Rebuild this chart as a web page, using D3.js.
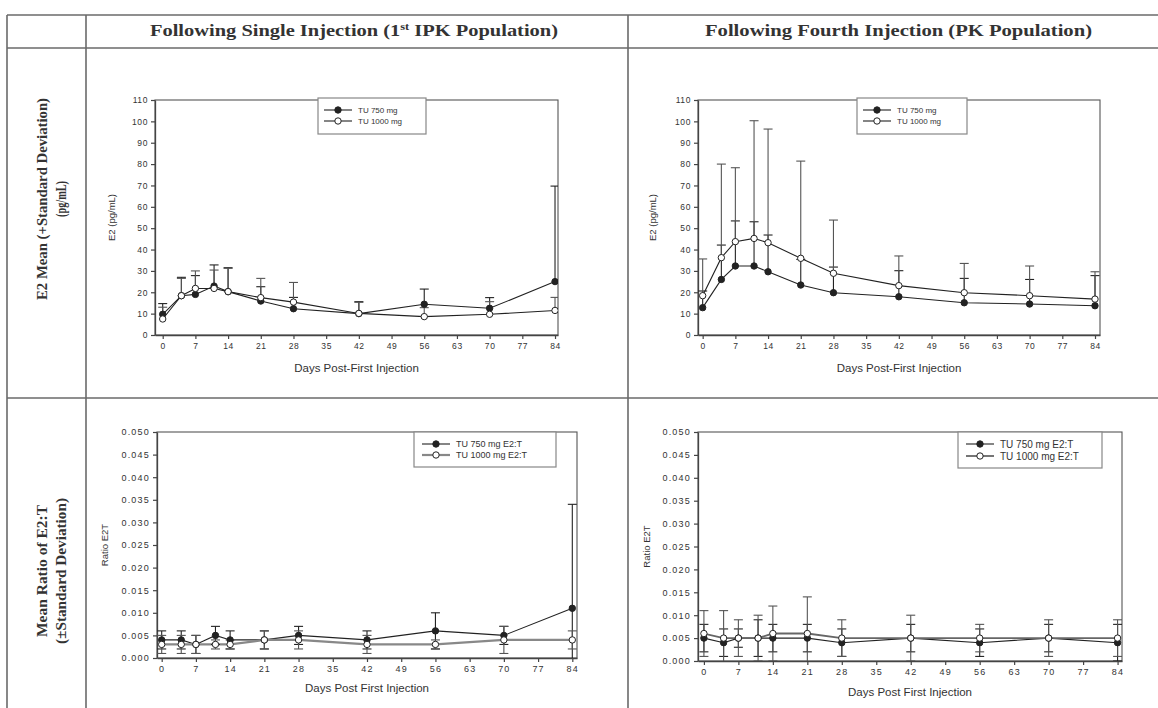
<!DOCTYPE html>
<html>
<head>
<meta charset="utf-8">
<script src="https://cdn.jsdelivr.net/npm/d3@7"></script>
<style>
  html, body { margin: 0; padding: 0; background: #fff; }
  svg { display: block; }
  .tick text { font-family: Arial, "Liberation Sans", sans-serif; fill: #333; }
</style>
</head>
<body>
<svg id="chart" width="1158" height="708"></svg>
<script>
// Sampling days after the first injection
const days = [0, 4, 7, 11, 14, 21, 28, 42, 56, 70, 84];
const dayTicks = [0, 7, 14, 21, 28, 35, 42, 49, 56, 63, 70, 77, 84];
const e2Ticks = [0, 10, 20, 30, 40, 50, 60, 70, 80, 90, 100, 110];
const ratioTicks = [0, 0.005, 0.01, 0.015, 0.02, 0.025, 0.03, 0.035, 0.04, 0.045, 0.05];

const columnTitles = ["Following Single Injection (1", "Following Fourth Injection (PK Population)"];
const rowTitles = [["E2 Mean (+Standard Deviation)", "(pg/mL)"], ["Mean Ratio of E2:T", "(\u00B1Standard Deviation)"]];
const e2Legend = ["TU 750 mg", "TU 1000 mg"];
const ratioLegend = ["TU 750 mg E2:T", "TU 1000 mg E2:T"];

// E2 (pg/mL), single injection
const e2Single750 = [9.7, 18.4, 19.0, 22.9, 20.3, 15.9, 12.3, 10.0, 14.4, 12.5, 25.0];
const e2Single750Sd = [5.0, 8.6, 8.8, 9.9, 11.2, 6.7, 5.3, 5.6, 7.1, 5.0, 44.7];
const e2Single1000 = [7.5, 18.4, 21.8, 21.8, 20.3, 17.5, 15.4, 10.1, 8.6, 9.7, 11.5];
const e2Single1000Sd = [5.5, 8.1, 8.2, 8.6, 10.9, 9.0, 9.2, 5.2, 4.2, 5.9, 6.1];

// E2 (pg/mL), fourth injection
const e2Fourth750 = [12.8, 26.0, 32.3, 32.3, 29.6, 23.4, 19.8, 17.9, 15.1, 14.5, 13.7];
const e2Fourth750Sd = [7.8, 16.1, 21.1, 20.7, 17.2, 12.0, 12.0, 12.2, 11.4, 11.5, 14.1];
const e2Fourth1000 = [18.4, 36.2, 43.7, 45.2, 43.2, 35.9, 28.9, 23.1, 19.8, 18.4, 16.8];
const e2Fourth1000Sd = [17.2, 43.8, 34.6, 55.1, 53.2, 45.5, 24.9, 13.9, 13.7, 13.9, 12.8];

// E2:T ratio, single injection
const ratioSingle750 = [0.004, 0.004, 0.003, 0.005, 0.004, 0.004, 0.005, 0.004, 0.006, 0.005, 0.011];
const ratioSingle750Sd = [0.002, 0.002, 0.002, 0.002, 0.002, 0.002, 0.002, 0.002, 0.004, 0.002, 0.023];
const ratioSingle1000 = [0.003, 0.003, 0.003, 0.003, 0.003, 0.004, 0.004, 0.003, 0.003, 0.004, 0.004];
const ratioSingle1000Sd = [0.002, 0.002, 0.002, 0.001, 0.001, 0.002, 0.002, 0.002, 0.001, 0.003, 0.002];

// E2:T ratio, fourth injection
const ratioFourth750 = [0.005, 0.004, 0.005, 0.005, 0.005, 0.005, 0.004, 0.005, 0.004, 0.005, 0.004];
const ratioFourth750Sd = [0.003, 0.003, 0.002, 0.004, 0.003, 0.003, 0.003, 0.003, 0.003, 0.003, 0.004];
const ratioFourth1000 = [0.006, 0.005, 0.005, 0.005, 0.006, 0.006, 0.005, 0.005, 0.005, 0.005, 0.005];
const ratioFourth1000Sd = [0.005, 0.006, 0.004, 0.005, 0.006, 0.008, 0.004, 0.005, 0.003, 0.004, 0.004];

const svg = d3.select("#chart");
const ink = "#222";
const rule = "#6a6a6a";

// ---- table grid ----
const grid = svg.append("g").attr("stroke", rule).attr("stroke-width", 1.6).attr("fill", "none");
grid.append("line").attr("x1", 7).attr("x2", 1158).attr("y1", 15).attr("y2", 15);
grid.append("line").attr("x1", 7).attr("x2", 1158).attr("y1", 48).attr("y2", 48);
grid.append("line").attr("x1", 7).attr("x2", 1158).attr("y1", 398).attr("y2", 398);
[7, 86, 628].forEach(x => grid.append("line").attr("x1", x).attr("x2", x).attr("y1", 15).attr("y2", 708));

// column headings
const serif = "'Liberation Serif', 'DejaVu Serif', serif";
const h1 = svg.append("text").attr("x", 150).attr("y", 36)
  .attr("font-family", serif).attr("font-weight", "bold").attr("font-size", 16.5).attr("fill", "#333")
  .attr("textLength", 408).attr("lengthAdjust", "spacingAndGlyphs");
h1.append("tspan").text(columnTitles[0]);
h1.append("tspan").attr("font-size", 10).attr("dy", -6).text("st");
h1.append("tspan").attr("dy", 6).text(" IPK Population)");
svg.append("text").attr("x", 705).attr("y", 36)
  .attr("font-family", serif).attr("font-weight", "bold").attr("font-size", 16.5).attr("fill", "#333")
  .attr("textLength", 387).attr("lengthAdjust", "spacingAndGlyphs")
  .text(columnTitles[1]);

// row headings, rotated
[199, 571].forEach((cy, i) => {
  const lines = rowTitles[i];
  lines.forEach((t, j) => {
    const bx = j === 0 ? 47 : 66;
    const L = i === 0 ? (j === 0 ? 202 : 36) : (j === 0 ? 132 : 146);
    svg.append("text")
      .attr("transform", `translate(${bx},${cy}) rotate(-90)`)
      .attr("text-anchor", "middle")
      .attr("font-family", serif).attr("font-weight", "bold").attr("font-size", 14.5).attr("fill", "#333")
      .attr("textLength", L).attr("lengthAdjust", "spacingAndGlyphs")
      .text(t);
  });
});

// ---- one line/error-bar panel ----
function panel(cfg) {
  const g = svg.append("g");
  const x = d3.scaleLinear().domain(cfg.xDomain).range([cfg.left, cfg.right]);
  const y = d3.scaleLinear().domain(cfg.yDomain).range([cfg.bottom, cfg.top]);
  const sans = "Arial, 'Liberation Sans', sans-serif";

  const clipId = "clip" + cfg.id;
  svg.append("clipPath").attr("id", clipId).append("rect")
    .attr("x", cfg.left).attr("y", cfg.top).attr("width", cfg.right - cfg.left).attr("height", cfg.bottom - cfg.top);

  // frame
  g.append("rect").attr("x", cfg.left).attr("y", cfg.top)
    .attr("width", cfg.right - cfg.left).attr("height", cfg.bottom - cfg.top)
    .attr("fill", "none").attr("stroke", "#555").attr("stroke-width", 1.1);

  // axes
  const xa = g.append("g").attr("transform", `translate(0,${cfg.bottom})`)
    .call(d3.axisBottom(x).tickValues(dayTicks).tickSize(4).tickSizeOuter(0).tickPadding(4));
  const ya = g.append("g").attr("transform", `translate(${cfg.left},0)`)
    .call(d3.axisLeft(y).tickValues(cfg.yTicks).tickFormat(cfg.yFormat).tickSize(4).tickSizeOuter(0).tickPadding(3));
  [xa, ya].forEach(a => {
    a.select(".domain").attr("stroke", "#444").attr("stroke-width", 1.3);
    a.selectAll(".tick line").attr("stroke", "#444").attr("stroke-width", 1.2);
    a.selectAll(".tick text").attr("font-size", cfg.tickFont).attr("letter-spacing", cfg.tickSpacing);
  });

  // axis titles
  g.append("text").attr("x", (cfg.left + cfg.right) / 2).attr("y", cfg.xLabelY)
    .attr("text-anchor", "middle").attr("font-family", sans).attr("font-size", 11.5).attr("fill", "#333")
    .text(cfg.xLabel);
  g.append("text")
    .attr("transform", `translate(${cfg.yLabelX},${(cfg.top + cfg.bottom) / 2}) rotate(-90)`)
    .attr("text-anchor", "middle").attr("font-family", sans).attr("font-size", 9.5).attr("fill", "#333")
    .text(cfg.yLabel);

  const plot = g.append("g").attr("clip-path", `url(#${clipId})`);
  const capHalf = 4.5;

  // connecting lines
  cfg.series.forEach(s => {
    const line = d3.line().x((d, i) => x(days[i])).y(d => y(d));
    plot.append("path").datum(s.values).attr("d", line)
      .attr("fill", "none").attr("stroke", s.lineColor).attr("stroke-width", s.lineWidth);
  });

  // error bars (upward only, or both directions)
  cfg.series.forEach(s => {
    const eb = plot.append("g").attr("stroke", s.barColor).attr("stroke-width", 1.1);
    s.values.forEach((v, i) => {
      const cx = x(days[i]);
      const hi = v + s.sd[i];
      const lo = cfg.both ? v - s.sd[i] : v;
      eb.append("line").attr("x1", cx).attr("x2", cx).attr("y1", y(lo)).attr("y2", y(hi));
      eb.append("line").attr("x1", cx - capHalf).attr("x2", cx + capHalf).attr("y1", y(hi)).attr("y2", y(hi));
      if (cfg.both) {
        eb.append("line").attr("x1", cx - capHalf).attr("x2", cx + capHalf).attr("y1", y(lo)).attr("y2", y(lo));
      }
    });
  });

  // markers
  cfg.series.forEach(s => {
    plot.append("g").selectAll("circle").data(s.values).join("circle")
      .attr("cx", (d, i) => x(days[i])).attr("cy", d => y(d)).attr("r", 3.2)
      .attr("fill", s.filled ? ink : "#fff").attr("stroke", ink).attr("stroke-width", 1);
  });

  // legend
  const lg = cfg.legend;
  g.append("rect").attr("x", lg.x).attr("y", lg.y).attr("width", lg.w).attr("height", lg.h)
    .attr("fill", "#fff").attr("stroke", "#888").attr("stroke-width", 1.2);
  cfg.series.forEach((s, i) => {
    const ry = lg.y + lg.row0 + i * lg.step;
    g.append("line").attr("x1", lg.x + lg.lx0).attr("x2", lg.x + lg.lx1).attr("y1", ry).attr("y2", ry)
      .attr("stroke", s.lineColor).attr("stroke-width", s.lineWidth);
    g.append("circle").attr("cx", lg.x + (lg.lx0 + lg.lx1) / 2).attr("cy", ry).attr("r", 3.2)
      .attr("fill", s.filled ? ink : "#fff").attr("stroke", ink).attr("stroke-width", 1);
    g.append("text").attr("x", lg.x + lg.tx).attr("y", ry + lg.font * 0.36)
      .attr("font-family", sans).attr("font-size", lg.font).attr("fill", "#333")
      .text(lg.labels[i]);
  });
}

const e2Fmt = d3.format("d");
const ratioFmt = d3.format(".3f");

panel({
  id: 1, left: 155, right: 558, top: 100, bottom: 335,
  xDomain: [-1.65, 84.64], yDomain: [0, 110], yTicks: e2Ticks, yFormat: e2Fmt,
  tickFont: 8.5, tickSpacing: 0.6, both: false,
  xLabel: "Days Post-First Injection", xLabelY: 372, yLabel: "E2 (pg/mL)", yLabelX: 115,
  series: [
    { values: e2Single750, sd: e2Single750Sd, filled: true, lineColor: ink, lineWidth: 1.1, barColor: ink },
    { values: e2Single1000, sd: e2Single1000Sd, filled: false, lineColor: ink, lineWidth: 1.1, barColor: "#555" }
  ],
  legend: { x: 318, y: 98, w: 108, h: 36, row0: 12, step: 11, lx0: 6, lx1: 34, tx: 40, font: 8, labels: e2Legend }
});

panel({
  id: 2, left: 698, right: 1100, top: 100, bottom: 335,
  xDomain: [-1.0, 85.07], yDomain: [0, 110], yTicks: e2Ticks, yFormat: e2Fmt,
  tickFont: 8.5, tickSpacing: 0.6, both: false,
  xLabel: "Days Post-First Injection", xLabelY: 372, yLabel: "E2 (pg/mL)", yLabelX: 656,
  series: [
    { values: e2Fourth750, sd: e2Fourth750Sd, filled: true, lineColor: ink, lineWidth: 1.1, barColor: ink },
    { values: e2Fourth1000, sd: e2Fourth1000Sd, filled: false, lineColor: ink, lineWidth: 1.1, barColor: "#555" }
  ],
  legend: { x: 857, y: 98, w: 110, h: 36, row0: 12, step: 11, lx0: 6, lx1: 34, tx: 40, font: 8, labels: e2Legend }
});

panel({
  id: 3, left: 157, right: 577, top: 432, bottom: 658,
  xDomain: [-0.96, 84.96], yDomain: [0, 0.05], yTicks: ratioTicks, yFormat: ratioFmt,
  tickFont: 9, tickSpacing: 1.2, both: true,
  xLabel: "Days Post First Injection", xLabelY: 692, yLabel: "Ratio E2T", yLabelX: 108,
  series: [
    { values: ratioSingle750, sd: ratioSingle750Sd, filled: true, lineColor: ink, lineWidth: 1.1, barColor: ink },
    { values: ratioSingle1000, sd: ratioSingle1000Sd, filled: false, lineColor: "#888", lineWidth: 2.2, barColor: "#555" }
  ],
  legend: { x: 414, y: 432, w: 142, h: 35, row0: 12, step: 11, lx0: 8, lx1: 36, tx: 42, font: 9, labels: ratioLegend }
});

panel({
  id: 4, left: 698, right: 1122, top: 432, bottom: 661,
  xDomain: [-1.2, 84.9], yDomain: [0, 0.05], yTicks: ratioTicks, yFormat: ratioFmt,
  tickFont: 9, tickSpacing: 1.2, both: true,
  xLabel: "Days Post First Injection", xLabelY: 696, yLabel: "Ratio E2T", yLabelX: 650,
  series: [
    { values: ratioFourth750, sd: ratioFourth750Sd, filled: true, lineColor: ink, lineWidth: 1.1, barColor: ink },
    { values: ratioFourth1000, sd: ratioFourth1000Sd, filled: false, lineColor: "#666", lineWidth: 1.8, barColor: "#555" }
  ],
  legend: { x: 958, y: 432, w: 144, h: 36, row0: 12, step: 12, lx0: 8, lx1: 36, tx: 42, font: 10, labels: ratioLegend }
});
</script>
</body>
</html>
